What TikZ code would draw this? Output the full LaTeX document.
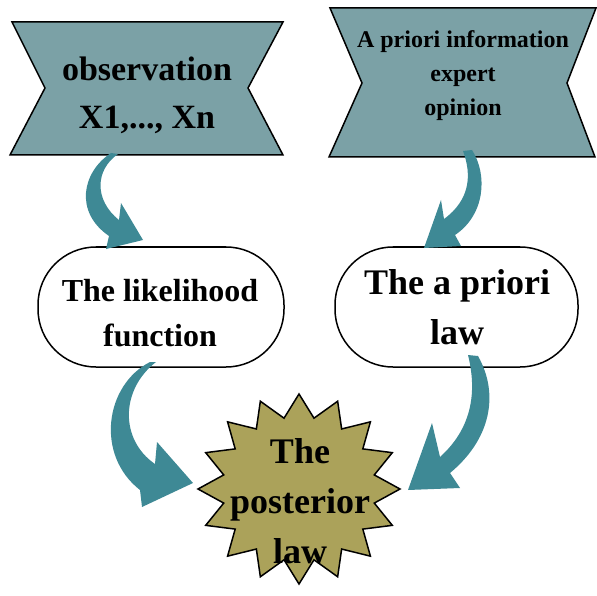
\documentclass[tikz,border=0pt]{standalone}
\usepackage{fontspec}
\setmainfont{Liberation Serif}
\definecolor{banner}{RGB}{123,161,166}
\definecolor{arrowc}{RGB}{62,137,149}
\definecolor{starc}{RGB}{171,162,90}
\tikzset{
  bannerbox/.style={fill=banner,draw=black,line width=1.5,line join=miter},
  roundbox/.style={draw=black,line width=1.5,fill=white,rounded corners=58},
  starbox/.style={fill=starc,draw=black,line width=1.5,line join=miter},
  bigarrow/.style={fill=arrowc,draw=none},
  txt/.style={align=center,inner sep=0pt,font=\bfseries}
}
\begin{document}
\begin{tikzpicture}[x=1pt,y=-1pt]
\useasboundingbox (0,0) rectangle (597,596);
% top banners
\draw[bannerbox] (12,22) -- (283,22) -- (248,88) -- (283,155) -- (10,155) -- (45,88) -- cycle;
\draw[bannerbox] (330,8) -- (596,8) -- (567,83) -- (595,157) -- (329,157) -- (362,83) -- cycle;
\node[txt,font=\bfseries\fontsize{34}{48}\selectfont] (obs) at (147,95) {observation\\X1,..., Xn};
\node[txt,font=\bfseries\fontsize{24}{34}\selectfont] (apr) at (463,76) {A priori information\\expert\\opinion};
% rounded boxes
\draw[roundbox] (38,247) rectangle (284,367);
\draw[roundbox] (335,247) rectangle (578,367);
\node[txt,font=\bfseries\fontsize{32}{45}\selectfont] (lik) at (160,313) {The likelihood\\function};
\node[txt,font=\bfseries\fontsize{36}{50}\selectfont] (law) at (457,307) {The a priori\\law};
% star
\begin{scope}[shift={(299,489)}]
\draw[starbox] (90:101 and 95) \foreach \i in {1,...,31}{
  -- ({90+\i*11.25}:{101*(1-0.24*mod(\i,2))} and {95*(1-0.24*mod(\i,2))})} -- cycle;
\end{scope}
\node[txt,font=\bfseries\fontsize{36}{50}\selectfont] (post) at (300,501) {The\\posterior\\law};
% curved arrows
\fill[bigarrow] (111,153) .. controls (82,172) and (74,212) .. (109,236)
  -- (106,249) -- (143,240) -- (121,203) -- (119,220)
  .. controls (94,200) and (95,170) .. (118,154) -- cycle;
\fill[bigarrow] (472,150) .. controls (488,175) and (485,215) .. (455,235)
  -- (461,246) -- (424,248) -- (441,200) -- (444,219)
  .. controls (470,200) and (472,175) .. (463,151) -- cycle;
\fill[bigarrow] (150,362) .. controls (105,385) and (95,455) .. (140,490)
  -- (142,507) -- (193,483) -- (157,442) -- (155,464)
  .. controls (120,440) and (120,390) .. (156,362) -- cycle;
\fill[bigarrow] (478,356) .. controls (500,395) and (490,440) .. (450,473)
  -- (460,488) -- (408,490) -- (432,423) -- (440,457)
  .. controls (470,430) and (478,395) .. (468,355) -- cycle;
\end{tikzpicture}
\end{document}
